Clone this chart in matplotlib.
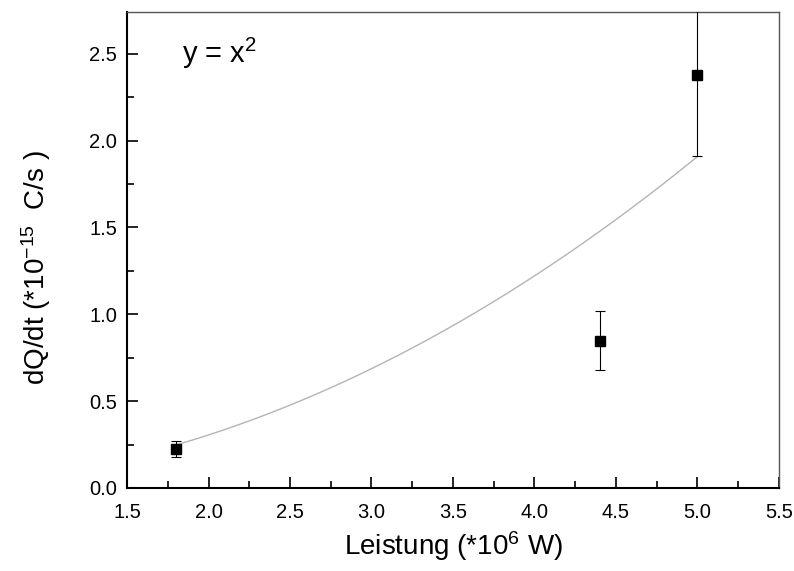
import matplotlib.pyplot as plt
import numpy as np

plt.rcParams['font.family'] = ['Liberation Sans', 'DejaVu Sans']
plt.rcParams['mathtext.fontset'] = 'custom'
plt.rcParams['mathtext.rm'] = 'Liberation Sans'
plt.rcParams['mathtext.it'] = 'Liberation Sans'

# measured points
leistung = [1.8, 4.4, 5.0]
dqdt = [0.225, 0.848, 2.38]
dqdt_err = [0.045, 0.17, 0.47]

# fit y = a * x^2
fit_a = 0.0763
fit_range = (1.8, 5.0)

fig = plt.figure(figsize=(7.94, 5.71), dpi=100)
ax = fig.add_axes([0.160, 0.1454, 0.821, 0.8336])

xf = np.linspace(fit_range[0], fit_range[1], 200)
ax.plot(xf, fit_a * xf**2, color="#b4b4b4", lw=1.0, zorder=2)
ax.errorbar(leistung, dqdt, yerr=dqdt_err, fmt="s", color="black", ms=7,
            ecolor="black", elinewidth=0.8, capsize=3.3, capthick=0.8, zorder=3)

ax.text(1.84, 2.5, "y = x$^2$", fontsize=21, va="center", ha="left")

ax.set_xlim(1.5, 5.5)
ax.set_ylim(0, 2.74)
ax.set_xticks(np.arange(1.5, 5.51, 0.5))
ax.set_xticks(np.arange(1.5, 5.51, 0.25), minor=True)
ax.set_yticks(np.arange(0, 2.51, 0.5))
ax.set_yticks(np.arange(0, 2.74, 0.25), minor=True)
ax.xaxis.set_major_formatter(plt.FormatStrFormatter("%.1f"))
ax.yaxis.set_major_formatter(plt.FormatStrFormatter("%.1f"))
ax.tick_params(which="both", direction="in", top=False, right=False, labelsize=14.5, width=1.2)
ax.tick_params(which="major", length=8)
ax.tick_params(axis="x", which="major", pad=11)
ax.tick_params(axis="y", which="major", pad=7)
ax.tick_params(which="minor", length=5)
for s in ["left", "bottom"]:
    ax.spines[s].set_linewidth(1.5)
for s in ["top", "right"]:
    ax.spines[s].set_linewidth(1.0)
    ax.spines[s].set_color("#555555")

ax.set_xlabel("Leistung (*10$^6$ W)", fontsize=20, labelpad=5)
ax.set_ylabel("dQ/dt (*10$^{-15}$  C/s )", fontsize=20)
ax.yaxis.set_label_coords(-0.113, 0.464)

fig.savefig("out.png", dpi=100)
